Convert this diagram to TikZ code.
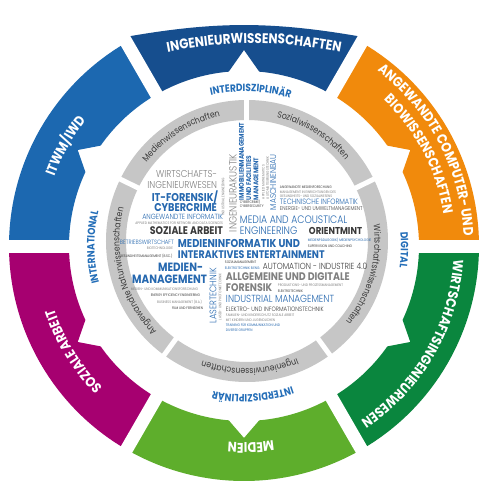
\documentclass[tikz,border=0pt]{standalone}
\usepackage{fontspec}
\setmainfont{Poppins}[FakeStretch=0.86]
\newfontfamily\thinfont{Poppins}[UprightFont={* Light},FakeStretch=0.86]
\usepackage{tikz}
\usetikzlibrary{positioning}
\usetikzlibrary{decorations.text}

\definecolor{ingblue}{RGB}{22,78,142}
\definecolor{itwmblue}{RGB}{28,104,176}
\definecolor{sozpurple}{RGB}{166,0,112}
\definecolor{medgreen}{RGB}{94,174,44}
\definecolor{winggreen}{RGB}{10,134,62}
\definecolor{cbworange}{RGB}{241,138,12}
\definecolor{ringgray}{RGB}{198,198,198}
\definecolor{labelblue}{RGB}{36,110,184}
\definecolor{wordblue}{RGB}{38,104,175}
\definecolor{wordgray}{RGB}{128,128,128}
\definecolor{worddark}{RGB}{58,58,58}

\newcommand{\wsize}[1]{\fontsize{#1}{#1}\selectfont}
\newcommand{\segfont}{\bfseries\wsize{14}\color{white}}
\newcommand{\midfont}{\bfseries\wsize{10.5}\color{labelblue}}
\newcommand{\ringfont}{\wsize{9}\color{worddark}}

\tikzset{
ringtext/.style={decorate,decoration={text along path,text align=center,text={#1}}},
word/.style={inner sep=0pt,outer sep=0pt},
wblue/.style={word,text=wordblue,font=\bfseries\wsize{#1}},
wbluethin/.style={word,text=wordblue,font=\thinfont\wsize{#1}},
wgray/.style={word,text=wordgray,font=\thinfont\wsize{#1}},
wgraybold/.style={word,text=wordgray,font=\bfseries\wsize{#1}},
wdark/.style={word,text=worddark,font=\thinfont\wsize{#1}},
wdarkbold/.style={word,text=worddark,font=\bfseries\wsize{#1}},
wtiny/.style={word,text=wordgray,font=\fontsize{3.6}{4.4}\selectfont}
}
\tikzstyle{gap}=[white,line width=13pt]

\begin{document}
\begin{tikzpicture}[x=1pt,y=1pt]
\useasboundingbox[fill=white] (-244,-237) rectangle (236,246);

% outer ring, five plain segments
\foreach \a/\col in {0/cbworange,120/itwmblue,180/sozpurple,240/medgreen,300/winggreen}
{
\pgfmathsetmacro{\b}{\a+60}
\pgfmathsetmacro{\m}{\a+30}
\pgfmathsetmacro{\ml}{\a+25}
\pgfmathsetmacro{\mr}{\a+35}
\fill[\col] (\a:175) -- (\a:235)
arc[start angle=\a,end angle=\b,radius=235]
-- (\b:175) arc[start angle=\b,end angle=\mr,radius=175]
-- (\m:192) -- (\ml:175)
arc[start angle=\ml,end angle=\a,radius=175] -- cycle;
}
% top segment is a bit flatter
\fill[ingblue] (60:175) -- (60:241) to[bend right=10] (120:241) -- (120:175)
arc[start angle=120,end angle=95,radius=175] -- (90:196) -- (85:175)
arc[start angle=85,end angle=60,radius=175] -- cycle;
\foreach \a in {0,60,...,300}
\draw[gap] (\a:168) -- (\a:252);

% segment titles
\path[ringtext={|\segfont|INGENIEURWISSENSCHAFTEN}]
(-95,190) to[bend left=12] (115,190);
\path[ringtext={|\segfont|ANGEWANDTE COMPUTER- UND}]
(77.7:220) arc[start angle=77.7,end angle=-22.3,radius=220];
\path[ringtext={|\segfont|BIOWISSENSCHAFTEN}]
(77.7:202) arc[start angle=77.7,end angle=-22.3,radius=202];
\path[ringtext={|\segfont|WIRTSCHAFTSINGENIEURWESEN}]
(20:210) arc[start angle=20,end angle=-80,radius=210];
\path[ringtext={|\segfont|MEDIEN}]
(-48:197) arc[start angle=-48,end angle=-128,radius=197];
\path[ringtext={|\segfont|SOZIALE ARBEIT}]
(251.7:200) arc[start angle=251.7,end angle=171.7,radius=200];
\path[ringtext={|\segfont|ITWM/IWD}]
(190.7:202) arc[start angle=190.7,end angle=110.7,radius=202];

% labels between the rings
\path[ringtext={|\midfont|INTERDISZIPLINÄR}]
(127.5:154.5) arc[start angle=127.5,end angle=47.5,radius=154.5];
\path[ringtext={|\midfont|DIGITAL}]
(38.6:157) arc[start angle=38.6,end angle=-41.4,radius=157];
\path[ringtext={|\midfont|INTERDISZIPLINÄR}]
(-46.6:148.5) arc[start angle=-46.6,end angle=-126.6,radius=148.5];
\path[ringtext={|\midfont|INTERNATIONAL}]
(220.4:149.5) arc[start angle=220.4,end angle=140.4,radius=149.5];

% gray ring of disciplines
\begin{scope}[shift={(3,5)}]
\fill[ringgray,even odd rule] (0,0) circle[radius=141] (0,0) circle[radius=121];
\foreach \a in {26,90,154,234,306}
\draw[white,line width=5pt] (\a:115) -- (\a:147);
\path[ringtext={|\ringfont|Medienwissenschaften}]
(162:127.5) arc[start angle=162,end angle=82,radius=127.5];
\path[ringtext={|\ringfont|Sozialwissenschaften}]
(98:127.5) arc[start angle=98,end angle=18,radius=127.5];
\path[ringtext={|\ringfont|Wirtschaftswissenschaften}]
(34:127.5) arc[start angle=34,end angle=-66,radius=127.5];
\path[ringtext={|\ringfont|Ingenieurwissenschaften}]
(-38.7:127.5) arc[start angle=-38.7,end angle=-138.7,radius=127.5];
\path[ringtext={|\ringfont|Angewandte Naturwissenschaften}]
(255:127.5) arc[start angle=255,end angle=135,radius=127.5];
\end{scope}

% word cloud, left part
\node (wing1) [wgray=10,anchor=east] at (-27,72) {WIRTSCHAFTS-};
\node (wing2) [wgray=10,anchor=east] at (-27,61) {INGENIEURWESEN};
\node (itf1) [wblue=11.3,anchor=east] at (-26,49) {IT-FORENSIK/};
\node (itf2) [wblue=11.3,anchor=east] at (-27,38.5) {CYBERCRIME};
\node (angi) [wbluethin=7.5,anchor=east] at (-21,29) {ANGEWANDTE INFORMATIK};
\node (amnds) [wtiny,anchor=east] at (-21,22.5) {APPLIED MATHEMATICS FOR NETWORK AND DATA SCIENCES};
\node (soz) [wdarkbold=11,anchor=east] at (-21,15) {SOZIALE ARBEIT};
\node (bwl) [wbluethin=6.2,anchor=west] at (-124,4) {BETRIEBSWIRTSCHAFT};
\node (bio) [wtiny,anchor=east] at (-71,-2) {BIOTECHNOLOGIE};
\node (gm) [wtiny,text=worddark,anchor=west] at (-124,-10) {GESUNDHEITSMANAGEMENT (B.SC.)};
\node (mi1) [wblue=11.4,anchor=west] at (-66,3) {MEDIENINFORMATIK UND};
\node (mi2) [wblue=11,anchor=west] at (-66,-9) {INTERAKTIVES ENTERTAINMENT};
\node (mm1) [wblue=12,anchor=east] at (-41,-21) {MEDIEN-};
\node (mm2) [wblue=12,anchor=east] at (-37,-33) {MANAGEMENT};
\node (t1) [wtiny,anchor=east] at (-46,-43.5) {MEDIEN- UND KOMMUNIKATIONSFORSCHUNG};
\node (t2) [wtiny,text=worddark,anchor=east] at (-44,-49) {ENERGY EFFICIENCY ENGINEERING};
\node (t3) [wtiny,anchor=east] at (-42,-56) {BUSINESS MANAGEMENT (B.A.)};
\node (t4) [wtiny,text=worddark,anchor=east] at (-41,-62) {FILM UND FERNSEHEN};
\node (laser) [wbluethin=9.5,rotate=90,anchor=west] at (-31,-77) {LASERTECHNIK};
\node (lt) [wtiny,rotate=90,anchor=west] at (-24,-74) {LASER- UND PHOTONIKTECHNIK};

% word cloud, upright columns
\node (ak) [wgray=10.5,rotate=90,anchor=west] at (-11,14) {INGENIEURAKUSTIK};
\node (ie) [wtiny,rotate=90,anchor=west] at (-21,31) {INDUSTRIAL ENGINEERING};
\node (imm) [word,text=wordblue,font=\bfseries\fontsize{6.8}{7.3}\selectfont,
align=left,rotate=90,anchor=north west] at (-5,46)
{IMMOBILIENMANAGEMENT\\UND FACILITIES\\MANAGEMENT};
\node (am) [wtiny,align=left,rotate=90,anchor=north west] at (18,47)
{APPLIED MATHEMATICS\\AUTOMATISIERUNGSTECHNIK};
\node (mb) [wbluethin=8.6,rotate=90,anchor=west] at (29,36) {MASCHINENBAU};
\node (cc) [wtiny,text=worddark,align=left,anchor=west] at (-4,42) {CYBERCRIME/\\CYBERSECURITY};

% word cloud, right part
\node (amf) [wtiny,text=worddark,anchor=west] at (36,59) {ANGEWANDTE MEDIENFORSCHUNG};
\node (gw1) [wtiny,anchor=west] at (36,54) {MANAGEMENT IN EINRICHTUNGEN DES};
\node (gw2) [wtiny,anchor=west] at (36,50) {GESUNDHEITS- UND SOZIALWESENS};
\node (ti) [wbluethin=7.7,anchor=west] at (36,44) {TECHNISCHE INFORMATIK};
\node (eum) [wdark=5.5,anchor=west] at (36,37) {ENERGIE- UND UMWELTMANAGEMENT};
\node (maa1) [wbluethin=10.8,anchor=west] at (-4,26) {MEDIA AND ACOUSTICAL};
\node (maa2) [wbluethin=10.8,anchor=west] at (-4,15) {ENGINEERING};
\node (om) [wdarkbold=10,anchor=west] at (65,15) {ORIENTMINT};
\node (mp) [wtiny,text=wordblue,anchor=west] at (64,6) {MEDIENPÄDAGOGIK/ MEDIENPSYCHOLOGIE};
\node (sc) [wtiny,text=worddark,anchor=west] at (64,0) {SUPERVISION UND COACHING};
\node (sm) [wtiny,text=worddark,anchor=west] at (-19,-16.5) {SOZIALMANAGEMENT};
\node (et) [wtiny,text=wordblue,anchor=west] at (-19,-22) {ELEKTROTECHNIK B.ENG.};
\node (ai) [wdark=8.8,anchor=west] at (19,-20) {AUTOMATION - INDUSTRIE 4.0};
\node (adf1) [wgraybold=11,anchor=west] at (-18,-31) {ALLGEMEINE UND DIGITALE};
\node (adf2) [wgraybold=11,anchor=west] at (-18,-42) {FORENSIK};
\node (ppm) [wtiny,anchor=west] at (34,-39) {PRODUKTIONS- UND PROZESSMANAGEMENT};
\node (etk) [wtiny,text=worddark,anchor=west] at (34,-45) {ELEKTROTECHNIK};
\node (im) [wbluethin=10.3,anchor=west] at (-18,-53) {INDUSTRIAL MANAGEMENT};
\node (eit) [wdark=6.3,anchor=west] at (-18,-63) {ELEKTRO- UND INFORMATIONSTECHNIK};
\node (b1) [wtiny,anchor=west] at (-18,-69) {FAMILIEN- UND KINDERSCHUTZ SOZIALE ARBEIT};
\node (b2) [wtiny,anchor=west] at (-18,-74) {MIT KINDERN UND JUGENDLICHEN};
\node (b3) [wtiny,text=wordblue,anchor=west] at (-18,-79) {TRAINING FÜR KOMMUNIKATION UND};
\node (b4) [wtiny,text=wordblue,anchor=west] at (-18,-84) {DIVERSE GRUPPEN};
\end{tikzpicture}
\end{document}
